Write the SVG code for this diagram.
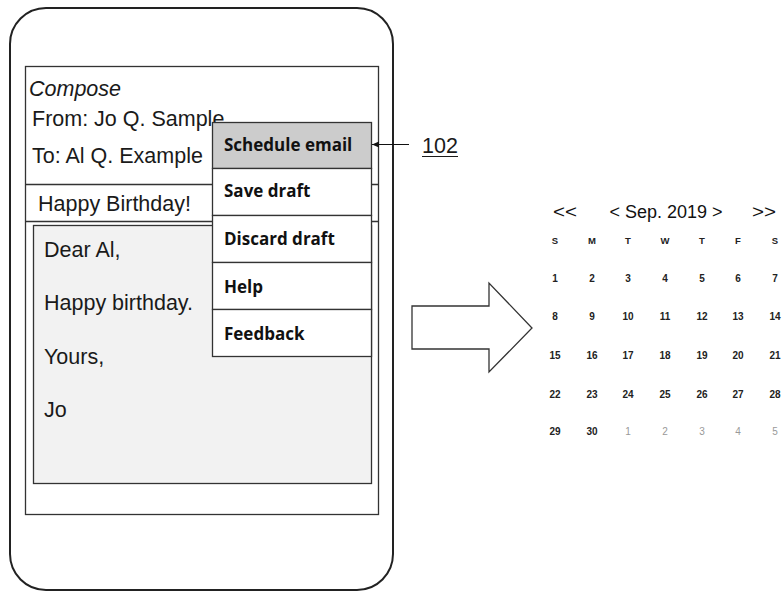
<svg xmlns="http://www.w3.org/2000/svg" width="782" height="592" viewBox="0 0 782 592">
<defs>
<style>
.ln{fill:none;stroke:#333;stroke-width:1.3}
.t{font-family:"Liberation Sans",Arial,sans-serif;font-size:21.5px;fill:#1a1a1a}
.m{font-family:"Open Sans","Noto Sans",sans-serif;font-size:17px;font-weight:bold;fill:#111}
.c{font-family:"Liberation Sans",Arial,sans-serif;font-size:18px;fill:#111}
.d{font-family:"Liberation Sans",Arial,sans-serif;font-size:10px;font-weight:bold;fill:#222;text-anchor:middle}
.g{font-family:"Liberation Sans",Arial,sans-serif;font-size:10px;fill:#999;text-anchor:middle}
</style>
<marker id="ah" markerWidth="8" markerHeight="8" refX="7" refY="4" orient="auto" markerUnits="userSpaceOnUse">
<path d="M0,1 L7,4 L0,7 Z" fill="#111"/>
</marker>
</defs>
<rect width="782" height="592" fill="#fff"/>
<g id="phone">
<rect x="10" y="8" width="383" height="582" rx="36" ry="36" fill="#fff" stroke="#222" stroke-width="2"/>
</g>
<g id="screen">
<rect class="ln" x="25.5" y="66.5" width="353" height="448"/>
<line class="ln" x1="25.5" y1="184.5" x2="378.5" y2="184.5"/>
<line class="ln" x1="25.5" y1="221.5" x2="378.5" y2="221.5"/>
<text class="t" x="29" y="96" font-style="italic">Compose</text>
<text class="t" x="32" y="126">From: Jo Q. Sample</text>
<text class="t" x="32" y="163">To: Al Q. Example</text>
<text class="t" x="38" y="211">Happy Birthday!</text>
</g>
<g id="body">
<rect x="33.5" y="225.5" width="338" height="258" fill="#f2f2f2" stroke="#333" stroke-width="1.3"/>
<text class="t" x="44" y="257">Dear Al,</text>
<text class="t" x="44" y="310">Happy birthday.</text>
<text class="t" x="44" y="364">Yours,</text>
<text class="t" x="44" y="417">Jo</text>
</g>
<g id="menu">
<rect x="212.5" y="122.5" width="159" height="46" fill="#cccccc" stroke="#333" stroke-width="1.3"/>
<rect x="212.5" y="168.5" width="159" height="47" fill="#fff" stroke="#333" stroke-width="1.3"/>
<rect x="212.5" y="215.5" width="159" height="47" fill="#fff" stroke="#333" stroke-width="1.3"/>
<rect x="212.5" y="262.5" width="159" height="47" fill="#fff" stroke="#333" stroke-width="1.3"/>
<rect x="212.5" y="309.5" width="159" height="47" fill="#fff" stroke="#333" stroke-width="1.3"/>
<text class="m" x="224" y="151">Schedule email</text>
<text class="m" x="224" y="197">Save draft</text>
<text class="m" x="224" y="245">Discard draft</text>
<text class="m" x="224" y="293">Help</text>
<text class="m" x="224" y="340">Feedback</text>
</g>
<g id="connectors">
<line x1="409" y1="144.5" x2="372" y2="144.5" stroke="#111" stroke-width="1" marker-end="url(#ah)"/>
<polygon class="ln" points="412,306 489,306 489,283 532,328 489,372 489,349 412,349" fill="#fff"/>
</g>
<g id="label102">
<text class="t" x="422" y="153">102</text>
<line x1="422" y1="156.5" x2="458" y2="156.5" stroke="#1a1a1a" stroke-width="1.2"/>
</g>
<g id="calendar">
<text class="c" x="553" y="218" textLength="24" lengthAdjust="spacingAndGlyphs">&lt;&lt;</text>
<text class="c" x="666" y="218" text-anchor="middle">&lt; Sep. 2019 &gt;</text>
<text class="c" x="752" y="218" textLength="24" lengthAdjust="spacingAndGlyphs">&gt;&gt;</text>
<g class="d" style="font-size:9.5px">
<text x="555" y="244">S</text><text x="592" y="244">M</text><text x="628" y="244">T</text><text x="665" y="244">W</text><text x="702" y="244">T</text><text x="738" y="244">F</text><text x="775" y="244">S</text>
</g>
<text class="d" x="555" y="282">1</text><text class="d" x="592" y="282">2</text><text class="d" x="628" y="282">3</text><text class="d" x="665" y="282">4</text><text class="d" x="702" y="282">5</text><text class="d" x="738" y="282">6</text><text class="d" x="775" y="282">7</text>
<text class="d" x="555" y="320">8</text><text class="d" x="592" y="320">9</text><text class="d" x="628" y="320">10</text><text class="d" x="665" y="320">11</text><text class="d" x="702" y="320">12</text><text class="d" x="738" y="320">13</text><text class="d" x="775" y="320">14</text>
<text class="d" x="555" y="359">15</text><text class="d" x="592" y="359">16</text><text class="d" x="628" y="359">17</text><text class="d" x="665" y="359">18</text><text class="d" x="702" y="359">19</text><text class="d" x="738" y="359">20</text><text class="d" x="775" y="359">21</text>
<text class="d" x="555" y="398">22</text><text class="d" x="592" y="398">23</text><text class="d" x="628" y="398">24</text><text class="d" x="665" y="398">25</text><text class="d" x="702" y="398">26</text><text class="d" x="738" y="398">27</text><text class="d" x="775" y="398">28</text>
<text class="d" x="555" y="435">29</text><text class="d" x="592" y="435">30</text><text class="g" x="628" y="435">1</text><text class="g" x="665" y="435">2</text><text class="g" x="702" y="435">3</text><text class="g" x="738" y="435">4</text><text class="g" x="775" y="435">5</text>
</g>
</svg>
